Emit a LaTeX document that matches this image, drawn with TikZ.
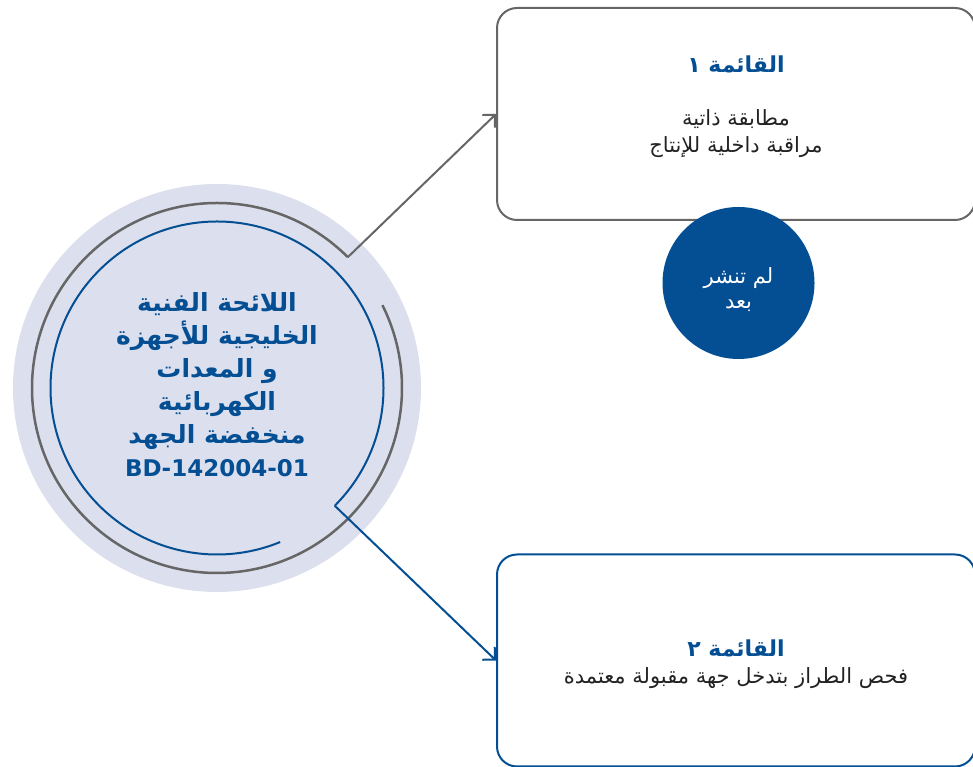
\documentclass[tikz,border=0pt]{standalone}
\usepackage{fontspec}
\setmainfont{DejaVu Sans}
\newfontfamily\arabicfont[Script=Arabic]{DejaVu Sans}
\TeXXeTstate=1
\usetikzlibrary{arrows.meta}
\definecolor{blau}{RGB}{4,79,147}
\definecolor{grau}{RGB}{102,102,102}
\definecolor{hell}{RGB}{220,223,238}
\definecolor{schrift}{RGB}{34,34,34}
\tikzset{
	liste/.style={draw,rounded corners=20pt,line width=2pt,minimum width=478pt,minimum height=212pt},
	listetext/.style={align=center,text=schrift,font=\arabicfont\fontsize{21}{27}\selectfont},
	regeltext/.style={align=center,text=blau,font=\arabicfont\bfseries\fontsize{25}{33}\selectfont},
	punktstil/.style={circle,fill=blau,minimum size=152pt},
	punkttext/.style={align=center,text=white,font=\arabicfont\fontsize{21}{25}\selectfont}
}

\begin{document}
\begin{tikzpicture}[x=1pt,y=1pt,>={Straight Barb[length=9pt,width=18pt]},line width=2pt]
\useasboundingbox (0,0) rectangle (973,767);
\def\rhell{204pt}
\def\rgrau{185pt}
\def\rblau{166.5pt}
\def\titel#1{{\color{blau}\bfseries\fontsize{22}{22}\selectfont\beginR #1\endR}}
\coordinate (mitte) at (217,379);
\coordinate (grauEnde) at ([shift={(45:\rgrau)}]mitte);
\coordinate (blauEnde) at ([shift={(-45:\rblau)}]mitte);
\fill[hell] (mitte) circle (\rhell);
\draw[grau,line width=2.5pt] (grauEnde) arc[start angle=45,end angle=386.6,radius=\rgrau];
\draw[blau] (blauEnde) arc[start angle=-45,end angle=292.3,radius=\rblau];
\node[regeltext] (regel) at ([yshift=3pt]mitte) {\beginR اللائحة الفنية\endR\\
	\beginR الخليجية للأجهزة\endR\\
	\beginR و المعدات\endR\\
	\beginR الكهربائية\endR\\
	\beginR منخفضة الجهد\endR\\
	{\fontsize{23}{33}\selectfont BD-142004-01}};
\node[liste,draw=grau] (liste1) at (736,653) {};
\node[listetext] (text1) at ([yshift=7pt]liste1.center) {\titel{القائمة ١}\\[26pt]
	\beginR مطابقة ذاتية\endR\\
	\beginR مراقبة داخلية للإنتاج\endR};
\node[liste,draw=blau] (liste2) at (736,106.5) {};
\node[listetext] (text2) at ([yshift=-4pt]liste2.center) {\titel{القائمة ٢}\\
	\beginR فحص الطراز بتدخل جهة مقبولة معتمدة\endR};
\draw[grau,->] (grauEnde) -- (liste1.west);
\draw[blau,->] (blauEnde) -- (liste2.west);
\node[punktstil] (punkt) at (738.5,484) {};
\node[punkttext] (text3) at ([yshift=-7pt]punkt.center) {\beginR لم تنشر\endR\\\beginR بعد\endR};
\end{tikzpicture}
\end{document}
